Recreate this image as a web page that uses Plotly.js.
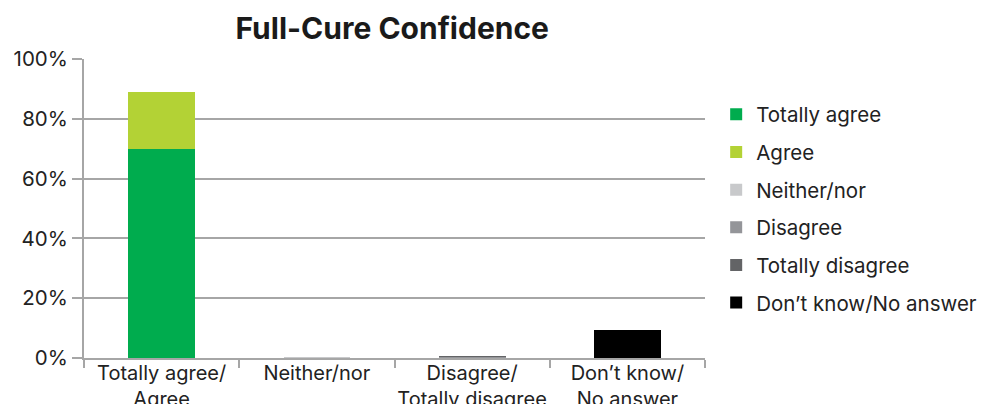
<!DOCTYPE html>
<html><head><meta charset="utf-8">
<script src="https://cdn.plot.ly/plotly-3.0.1.min.js"></script>
<style>html,body{margin:0;padding:0;background:#fff}</style>
</head><body>
<div id="chart" style="width:988px;height:404px"></div>
<script>
const categories = ["Totally agree/<br>Agree", "Neither/nor", "Disagree/<br>Totally disagree", "Don’t know/<br>No answer"];
const seriesNames = ["Totally agree", "Agree", "Neither/nor", "Disagree", "Totally disagree", "Don’t know/No answer"];
const totallyAgree = [70, 0, 0, 0];
const agree = [19, 0, 0, 0];
const neither = [0, 0.4, 0, 0];
const disagree = [0, 0, 0.2, 0];
const totallyDisagree = [0, 0, 0.4, 0];
const dontKnow = [0, 0, 0, 9.5];
const colors = ["#00ac4e", "#b3d235", "#c8c9cb", "#949599", "#636466", "#000000"];
const values = [totallyAgree, agree, neither, disagree, totallyDisagree, dontKnow];

const traces = values.map((v, i) => ({
  type: "bar", x: categories, y: v, name: seriesNames[i],
  marker: {color: colors[i], line: {width: 0}},
  legendgroup: "g" + i, hoverinfo: "none"
}));

const layout = {
  width: 988, height: 404,
  margin: {l: 84, r: 283, t: 59, b: 46, autoexpand: false},
  barmode: "stack", bargap: 0.57,
  paper_bgcolor: "#fff", plot_bgcolor: "#fff",
  font: {family: "Inter, 'Open Sans', sans-serif", size: 20, color: "#222"},
  title: {text: "<b>Full-Cure Confidence</b>", x: 0.397, xanchor: "center",
          yref: "container", y: 0.93, yanchor: "middle",
          font: {size: 30, color: "#1a1a1a", family: "Inter, sans-serif"}},
  xaxis: {
    tickson: "boundaries", ticks: "outside", ticklen: 8, tickcolor: "#a6a6a6", tickwidth: 2,
    showline: true, linecolor: "#a6a6a6", linewidth: 2, showgrid: false, tickangle: 0,
    ticklabelstandoff: -4,
    automargin: false, tickfont: {size: 20, color: "#222"}, fixedrange: true
  },
  yaxis: {
    range: [0, 100], dtick: 20, ticksuffix: "%", ticks: "outside", ticklen: 10,
    tickcolor: "#a6a6a6", tickwidth: 2, showline: true, linecolor: "#a6a6a6", linewidth: 2,
    showgrid: true, gridcolor: "#a6a6a6", gridwidth: 2, zeroline: false, automargin: false,
    tickfont: {size: 20.5, color: "#222"}, fixedrange: true
  },
  legend: {
    x: 1.018, xanchor: "left", y: 0.5, yanchor: "middle",
    traceorder: "grouped", tracegroupgap: 8,
    font: {size: 20.5, color: "#222"}, itemwidth: 30
  },
  showlegend: true
};
Plotly.newPlot("chart", traces, layout, {displayModeBar: false, staticPlot: true});
</script>
</body></html>
